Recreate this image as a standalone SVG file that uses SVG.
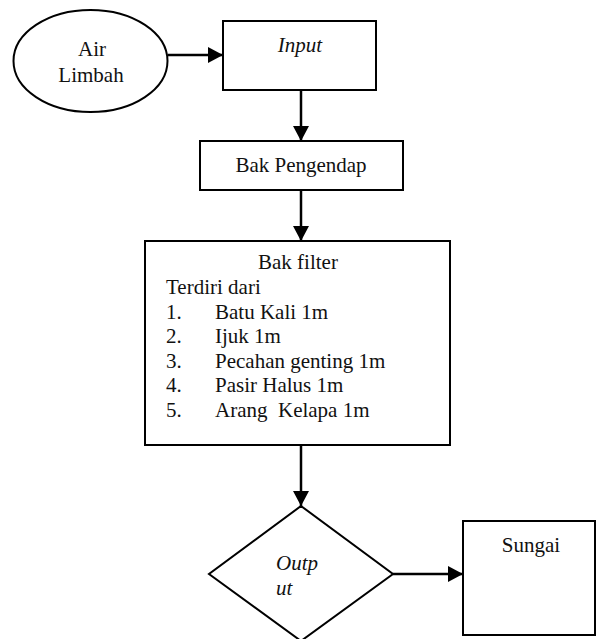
<svg xmlns="http://www.w3.org/2000/svg" width="596" height="639" viewBox="0 0 596 639">
<defs>
<marker id="arr" markerUnits="userSpaceOnUse" markerWidth="16" markerHeight="16" refX="15" refY="8" orient="auto">
<path d="M0,0 L15,8 L0,16 z" fill="#000"/>
</marker>
<style>
.s{fill:#fff;stroke:#000;stroke-width:2}
.t{font-family:"Liberation Serif","Times New Roman",serif;font-size:21px;fill:#111}
.i{font-style:italic}
.c{stroke:#000;stroke-width:2.5;fill:none;marker-end:url(#arr)}
</style>
</defs>
<rect width="596" height="639" fill="#fff"/>
<g id="connectors">
<line class="c" x1="168" y1="55" x2="223" y2="55"/>
<line class="c" x1="301" y1="90" x2="301" y2="141"/>
<line class="c" x1="301" y1="190" x2="301" y2="241"/>
<line class="c" x1="301" y1="445" x2="301" y2="506"/>
<line class="c" x1="393" y1="574" x2="463" y2="574"/>
</g>
<g id="air-limbah">
<ellipse class="s" cx="90.5" cy="61" rx="77" ry="51"/>
<text class="t" x="92" y="56" text-anchor="middle">Air</text>
<text class="t" x="91" y="82" text-anchor="middle">Limbah</text>
</g>
<g id="input">
<rect class="s" x="223" y="21" width="153" height="69"/>
<text class="t i" x="300" y="52" text-anchor="middle">Input</text>
</g>
<g id="bak-pengendap">
<rect class="s" x="200" y="141" width="203" height="49"/>
<text class="t" x="301" y="172" text-anchor="middle">Bak Pengendap</text>
</g>
<g id="bak-filter">
<rect class="s" x="145" y="241" width="305" height="204"/>
<text class="t" x="298" y="269" text-anchor="middle">Bak filter</text>
<text class="t" x="166" y="294">Terdiri dari</text>
<text class="t" x="166" y="319">1.</text><text class="t" x="215" y="319">Batu Kali 1m</text>
<text class="t" x="166" y="343">2.</text><text class="t" x="215" y="343">Ijuk 1m</text>
<text class="t" x="166" y="368">3.</text><text class="t" x="215" y="368">Pecahan genting 1m</text>
<text class="t" x="166" y="392">4.</text><text class="t" x="215" y="392">Pasir Halus 1m</text>
<text class="t" x="166" y="417">5.</text><text class="t" x="215" y="417" xml:space="preserve">Arang  Kelapa 1m</text>
</g>
<g id="output">
<polygon class="s" points="301,506 393,574 301,641 209,574" stroke-width="1.8"/>
<text class="t i" x="276" y="570">Outp</text>
<text class="t i" x="276" y="595">ut</text>
</g>
<g id="sungai">
<rect class="s" x="463" y="521" width="132" height="114"/>
<text class="t" x="531" y="552" text-anchor="middle">Sungai</text>
</g>
</svg>
